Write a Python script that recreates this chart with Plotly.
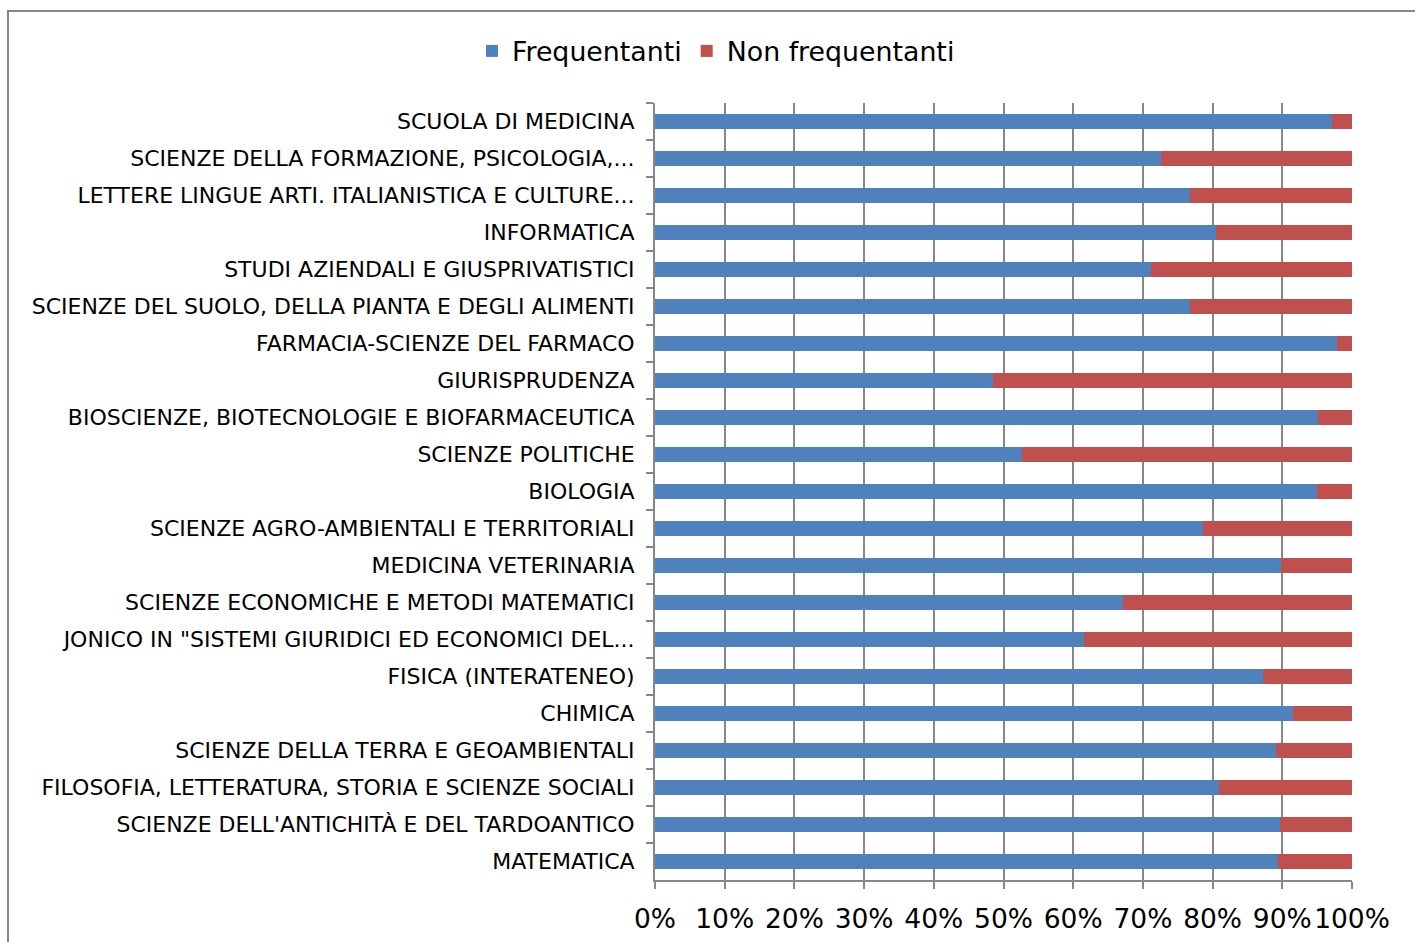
import plotly.graph_objects as go

categories = [
    "SCUOLA DI MEDICINA",
    "SCIENZE DELLA FORMAZIONE, PSICOLOGIA,...",
    "LETTERE LINGUE ARTI. ITALIANISTICA E CULTURE...",
    "INFORMATICA",
    "STUDI AZIENDALI E GIUSPRIVATISTICI",
    "SCIENZE DEL SUOLO, DELLA PIANTA E DEGLI ALIMENTI",
    "FARMACIA-SCIENZE DEL FARMACO",
    "GIURISPRUDENZA",
    "BIOSCIENZE, BIOTECNOLOGIE E BIOFARMACEUTICA",
    "SCIENZE POLITICHE",
    "BIOLOGIA",
    "SCIENZE AGRO-AMBIENTALI E TERRITORIALI",
    "MEDICINA VETERINARIA",
    "SCIENZE ECONOMICHE E METODI MATEMATICI",
    "JONICO IN \"SISTEMI GIURIDICI ED ECONOMICI DEL...",
    "FISICA (INTERATENEO)",
    "CHIMICA",
    "SCIENZE DELLA TERRA E GEOAMBIENTALI",
    "FILOSOFIA, LETTERATURA, STORIA E SCIENZE SOCIALI",
    "SCIENZE DELL'ANTICHITÀ E DEL TARDOANTICO",
    "MATEMATICA",
]

frequentanti = [97.2, 72.6, 76.8, 80.5, 71.2, 76.8, 97.8, 48.5, 95.1, 52.6, 95.0,
                78.6, 89.8, 67.2, 61.6, 87.2, 91.5, 89.1, 80.9, 89.7, 89.4]
non_frequentanti = [2.8, 27.4, 23.2, 19.5, 28.8, 23.2, 2.2, 51.5, 4.9, 47.4, 5.0,
                    21.4, 10.2, 32.8, 38.4, 12.8, 8.5, 10.9, 19.1, 10.3, 10.6]

tick_vals = [0, 10, 20, 30, 40, 50, 60, 70, 80, 90, 100]
tick_text = ["0%", "10%", "20%", "30%", "40%", "50%", "60%", "70%", "80%", "90%", "100%"]

BLUE = "#4F81BD"
RED = "#C0504D"
GRAY = "#878787"
FONT = "DejaVu Sans"

fig = go.Figure()
fig.add_trace(go.Bar(
    y=categories, x=frequentanti, name="Frequentanti", orientation="h",
    marker=dict(color=BLUE, line=dict(width=0)), width=0.4,
))
fig.add_trace(go.Bar(
    y=categories, x=non_frequentanti, name="Non frequentanti", orientation="h",
    marker=dict(color=RED, line=dict(width=0)), width=0.4,
))

fig.update_layout(
    barmode="stack",
    width=1415, height=942,
    margin=dict(l=655, r=63, t=103, b=62, autoexpand=False),
    paper_bgcolor="white", plot_bgcolor="white",
    font=dict(family=FONT, color="black"),
    legend=dict(
        orientation="h", xref="container", yref="container",
        x=0.506, y=1 - 51 / 942, xanchor="center", yanchor="middle",
        font=dict(size=26.8, family=FONT), traceorder="normal",
        itemwidth=30,
    ),
    xaxis=dict(
        range=[0, 100], tickvals=tick_vals, ticktext=tick_text,
        showgrid=True, gridcolor=GRAY, gridwidth=2,
        showline=True, linecolor=GRAY, linewidth=2,
        ticks="outside", ticklen=7, tickcolor=GRAY, tickwidth=2,
        tickfont=dict(size=26.5, family=FONT), ticklabelstandoff=7,
        zeroline=False, fixedrange=True, automargin=False,
    ),
    yaxis=dict(
        autorange="reversed", type="category",
        showgrid=False, showline=True, linecolor=GRAY, linewidth=2,
        ticks="outside", ticklen=7, tickcolor=GRAY, tickwidth=2,
        tickson="boundaries", ticklabelstandoff=14,
        tickfont=dict(size=22, family=FONT), fixedrange=True, automargin=False,
    ),
    shapes=[dict(
        type="rect", xref="paper", yref="paper",
        x0=(8 - 655) / 697, x1=1.2, y0=-0.3, y1=(880 - 11) / 777,
        line=dict(color=GRAY, width=2), fillcolor="rgba(0,0,0,0)", layer="below",
    )],
)

fig.write_html(
    "out.html",
    config={"displayModeBar": False},
    post_script="document.body.style.margin='0';document.body.style.overflow='hidden';",
)
